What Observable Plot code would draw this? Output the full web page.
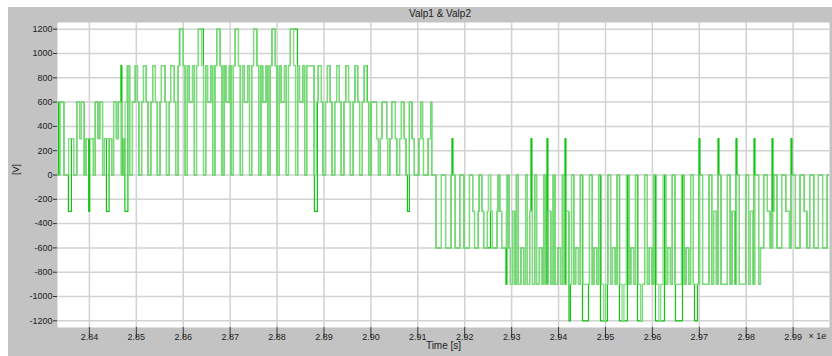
<!DOCTYPE html>
<html><head><meta charset="utf-8">
<script src="https://cdn.jsdelivr.net/npm/d3@7"></script>
<script src="https://cdn.jsdelivr.net/npm/@observablehq/plot@0.6"></script>
<style>
html,body{margin:0;padding:0;background:#fff;width:832px;height:356px;overflow:hidden;}
#panel{position:absolute;left:8px;top:7px;width:824px;height:349px;background:#c3c3c3;font-family:"Liberation Sans",Arial,sans-serif;}
#title{position:absolute;left:46px;top:0;width:772px;text-align:center;font-size:10px;line-height:13px;color:#222;}
#chart{position:absolute;left:0;top:12px;}
</style></head>
<body>
<div id="panel"><div id="title">Valp1 &amp; Valp2</div><div id="chart"></div></div>
<script>
const xTicks = [2.84,2.85,2.86,2.87,2.88,2.89,2.90,2.91,2.92,2.93,2.94,2.95,2.96,2.97,2.98,2.99];
const xTickLabels = ["2.84","2.85","2.86","2.87","2.88","2.89","2.90","2.91","2.92","2.93","2.94","2.95","2.96","2.97","2.98","2.99"];
const yTicks = [-1200,-1000,-800,-600,-400,-200,0,200,400,600,800,1000,1200];
const yTickLabels = ["-1200","-1000","-800","-600","-400","-200","0","200","400","600","800","1000","1200"];

// carrier periods of Valp2: each entry = [level, fraction of period, level, fraction, ...]
const periodStart = 2.8332;
const periodLength = 0.00196;
const valp2Periods = [
  [0,.25,600,.45,0,.3],
  [0,.2,300,.55,0,.25],
  [0,.1,600,.3,300,.2,600,.3,0,.1],
  [0,.1,300,.8,0,.1],
  [0,.1,600,.3,300,.2,600,.3,0,.1],
  [0,.1,300,.8,0,.1],
  [0,.1,600,.3,300,.2,600,.3,0,.1],
  [0,.15,300,.2,600,.2,900,.3,0,.15],
  [0,.15,600,.3,900,.25,600,.15,0,.15],
  [0,.15,600,.2,900,.3,600,.2,0,.15],
  [0,.15,600,.2,900,.3,600,.2,0,.15],
  [0,.15,600,.15,900,.4,600,.15,0,.15],
  [0,.15,600,.15,900,.4,600,.15,0,.15],
  [0,.12,900,.2,1200,.36,900,.2,0,.12],
  [0,.12,900,.2,600,.36,900,.2,0,.12],
  [0,.12,900,.2,1200,.36,900,.2,0,.12],
  [0,.12,900,.2,600,.36,900,.2,0,.12],
  [0,.12,900,.2,1200,.36,900,.2,0,.12],
  [0,.12,900,.2,600,.36,900,.2,0,.12],
  [0,.12,900,.2,1200,.36,900,.2,0,.12],
  [0,.12,900,.2,600,.36,900,.2,0,.12],
  [0,.12,900,.2,1200,.36,900,.2,0,.12],
  [0,.12,900,.2,600,.36,900,.2,0,.12],
  [0,.12,900,.2,1200,.36,900,.2,0,.12],
  [0,.12,900,.2,600,.36,900,.2,0,.12],
  [0,.12,900,.2,1200,.36,900,.2,0,.12],
  [0,.12,900,.2,600,.36,900,.2,0,.12],
  [0,.1,900,.8,0,.1],
  [0,.15,600,.2,900,.35,600,.15,0,.15],
  [0,.15,600,.2,900,.3,600,.2,0,.15],
  [0,.15,600,.2,900,.3,600,.2,0,.15],
  [0,.15,600,.2,900,.3,600,.2,0,.15],
  [0,.15,600,.2,900,.3,600,.2,0,.15],
  [0,.15,600,.2,900,.3,600,.2,0,.15],
  [0,.1,600,.6,300,.2,0,.1],
  [0,.1,300,.2,600,.5,300,.1,0,.1],
  [0,.15,300,.2,600,.4,300,.15,0,.1],
  [0,.2,300,.2,600,.3,300,.2,0,.1],
  [0,.25,600,.3,300,.25,0,.2],
  [0,.3,300,.2,600,.2,300,.1,0,.2],
  [0,.3,300,.3,600,.1,0,.3],
  [0,.15,-600,.6,0,.25],
  [0,.2,-600,.6,0,.2],
  [0,.25,-600,.5,0,.25],
  [0,.2,-600,.6,0,.2],
  [0,.15,-300,.2,-600,.4,-300,.1,0,.15],
  [0,.15,-300,.2,-600,.4,-300,.1,0,.15],
  [0,.1,-300,.2,-600,.5,-300,.1,0,.1],
  [0,.1,-300,.2,-600,.5,-300,.1,0,.1],
  [0,.1,-600,.15,-900,.25,-300,.25,-900,.15,0,.1],
  [0,.1,-900,.3,-600,.3,-900,.2,0,.1],
  [0,.1,-900,.25,-300,.3,-900,.25,0,.1],
  [0,.1,-900,.3,-600,.3,-900,.2,0,.1],
  [0,.1,-900,.25,-300,.3,-900,.25,0,.1],
  [0,.1,-900,.3,-600,.3,-900,.2,0,.1],
  [0,.1,-900,.25,-300,.3,-900,.25,0,.1],
  [0,.15,-900,.2,-600,.3,-900,.2,0,.15],
  [0,.15,-900,.7,0,.15],
  [0,.15,-900,.2,-600,.3,-900,.2,0,.15],
  [0,.15,-900,.25,-1200,.2,-900,.25,0,.15],
  [0,.15,-900,.2,-600,.3,-900,.2,0,.15],
  [0,.15,-900,.25,-1200,.2,-900,.25,0,.15],
  [0,.15,-900,.2,-600,.3,-900,.2,0,.15],
  [0,.15,-900,.25,-1200,.2,-900,.25,0,.15],
  [0,.15,-900,.2,-600,.3,-900,.2,0,.15],
  [0,.15,-900,.25,-1200,.2,-900,.25,0,.15],
  [0,.15,-900,.2,-600,.3,-900,.2,0,.15],
  [0,.15,-900,.7,0,.15],
  [0,.15,-900,.2,-600,.3,-900,.2,0,.15],
  [0,.15,-900,.7,0,.15],
  [0,.15,-900,.7,0,.15],
  [0,.15,-900,.2,-300,.3,-900,.2,0,.15],
  [0,.15,-900,.7,0,.15],
  [0,.15,-900,.2,-300,.3,-900,.2,0,.15],
  [0,.15,-900,.7,0,.15],
  [0,.15,-900,.2,-300,.3,-900,.2,0,.15],
  [0,.25,-900,.2,-600,.35,0,.2],
  [0,.2,-300,.3,-600,.3,-300,.1,0,.1],
  [0,.25,-600,.5,0,.25],
  [0,.2,-300,.4,-600,.2,0,.2],
  [0,.25,-600,.5,0,.25],
  [0,.2,-300,.3,-600,.3,0,.2],
  [0,.25,-600,.5,0,.25],
  [0,.2,-600,.5,0,.3]
];

// Valp1 differs from Valp2 in these short pulses: [start, end, level]
const valp1Pulses = [
  [2.833392,2.833605,600],[2.834138,2.834351,600],
  [2.835523,2.836163,-300],
  [2.839851,2.840064,-300],[2.843624,2.844199,-300],
  [2.846715,2.846928,900],[2.847568,2.848207,-300],
  [2.859185,2.859612,1200],[2.863449,2.864301,1200],[2.883487,2.884339,1200],
  [2.887963,2.888602,-300],[2.898622,2.899261,900],[2.907789,2.908214,-300],
  [2.917275,2.917488,300],[2.919939,2.920366,-600],[2.924842,2.925482,-600],
  [2.928787,2.929000,-900],[2.934117,2.934330,300],[2.937528,2.937741,300],
  [2.941365,2.941578,300],[2.942218,2.942537,-1200],
  [2.945094,2.946373,-1200],[2.948931,2.950423,-1200],[2.952981,2.954687,-1200],
  [2.956818,2.957884,-1200],[2.960655,2.962574,-1200],[2.964919,2.966411,-1200],
  [2.968969,2.969609,-1200],
  [2.969928,2.970141,300],[2.973979,2.974192,300],[2.977816,2.978029,300],
  [2.981653,2.981866,300],[2.985490,2.985703,300],[2.989541,2.989754,300]
];

const valp2 = [];
valp2Periods.forEach((seg, k) => {
  let t = periodStart + k * periodLength;
  for (let i = 0; i < seg.length; i += 2) {
    valp2.push({t, v: seg[i]});
    t += seg[i + 1] * periodLength;
  }
});
valp2.push({t: periodStart + valp2Periods.length * periodLength, v: valp2[valp2.length - 1].v});

function valp2At(t) {
  let v = valp2[0].v;
  for (const p of valp2) { if (p.t <= t + 1e-12) v = p.v; else break; }
  return v;
}
const tset = new Set(valp2.map(d => d.t));
valp1Pulses.forEach(([a, b]) => { tset.add(a); tset.add(b); });
const valp1 = [...tset].sort((a, b) => a - b).map(t => {
  const p = valp1Pulses.find(([a, b]) => t >= a && t < b);
  return {t, v: p ? p[2] : valp2At(t)};
});

const chart = Plot.plot({
  width: 824,
  height: 337,
  marginLeft: 49,
  marginRight: 3,
  marginTop: 3,
  marginBottom: 29,
  style: {background: "transparent", fontFamily: "Liberation Sans, Arial, sans-serif", fontSize: "9px", color: "#222"},
  x: {domain: [2.8332, 2.99775]},
  y: {domain: [-1255, 1255]},
  marks: [
    Plot.frame({fill: "white", stroke: null}),
    Plot.gridX(xTicks, {stroke: "#d2d2d2", strokeOpacity: 1, strokeWidth: 1.5}),
    Plot.gridY(yTicks, {stroke: "#d2d2d2", strokeOpacity: 1, strokeWidth: 1.5}),
    Plot.line(valp1, {x: "t", y: "v", curve: "step-after", stroke: "#14c414", strokeWidth: 1.2, clip: true}),
    Plot.line(valp2, {x: "t", y: "v", curve: "step-after", stroke: "#80da80", strokeWidth: 1.2, clip: true}),
    Plot.axisY({ticks: yTicks, tickFormat: (d, i) => yTickLabels[i], tickSize: 4, tickPadding: 1, label: null, stroke: "#333", fill: "#222", fontSize: 9}),
    Plot.axisX({ticks: xTicks, tickFormat: (d, i) => xTickLabels[i], tickSize: 11, tickPadding: -5, label: null, stroke: "#333", fill: "#222", fontSize: 9}),
    Plot.text(["Time [s]"], {frameAnchor: "bottom", dy: 21, fontSize: 10, fill: "#222"}),
    Plot.text(["× 1e"], {frameAnchor: "bottom-right", dx: -21, dy: 11, textAnchor: "start", fontSize: 9, fill: "#222"}),
    Plot.text(["[V]"], {frameAnchor: "left", dx: -41, rotate: -90, fontSize: 9, fill: "#222"})
  ]
});
document.getElementById("chart").appendChild(chart);
</script>
</body></html>
